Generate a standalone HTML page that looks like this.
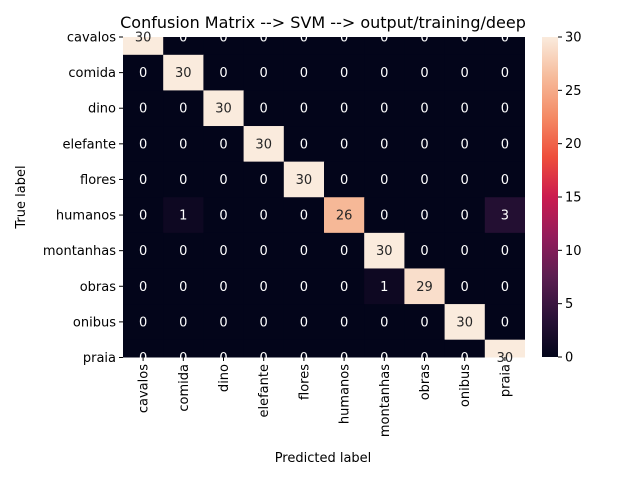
<!DOCTYPE html>
<html><head><meta charset="utf-8"><style>
body{margin:0;background:#fff}
svg text{font-family:"DejaVu Sans","Liberation Sans",sans-serif}
</style></head><body>
<svg id="c" width="640" height="480" xmlns="http://www.w3.org/2000/svg">
<defs>
<linearGradient id="cb" x1="0" y1="1" x2="0" y2="0">
<stop offset="0" stop-color="#03051A"/><stop offset="0.125" stop-color="#2B1238"/>
<stop offset="0.25" stop-color="#5B1E51"/><stop offset="0.375" stop-color="#931C5B"/>
<stop offset="0.5" stop-color="#CB1B4F"/><stop offset="0.625" stop-color="#EE4E3B"/>
<stop offset="0.75" stop-color="#F48A65"/><stop offset="0.875" stop-color="#F6BB9B"/>
<stop offset="1" stop-color="#FAEBDD"/></linearGradient>
<clipPath id="ax"><rect x="123" y="37" width="402" height="320.5"/></clipPath>
</defs>
<text x="323" y="28" font-size="16" text-anchor="middle">Confusion Matrix --&gt; SVM --&gt; output/training/deep</text>
<g id="cells" clip-path="url(#ax)"></g>
<g id="ann"></g>
<g id="ticks"></g>
<rect x="542" y="37" width="16" height="320" fill="url(#cb)"/>
<g id="cbt"></g>
<text x="323" y="462" font-size="13" text-anchor="middle">Predicted label</text>
<text transform="translate(25,197) rotate(-90)" font-size="13" text-anchor="middle">True label</text>
</svg>
<script>
const labels=["cavalos","comida","dino","elefante","flores","humanos","montanhas","obras","onibus","praia"];
const matrix=[
[30,0,0,0,0,0,0,0,0,0],
[0,30,0,0,0,0,0,0,0,0],
[0,0,30,0,0,0,0,0,0,0],
[0,0,0,30,0,0,0,0,0,0],
[0,0,0,0,30,0,0,0,0,0],
[0,1,0,0,0,26,0,0,0,3],
[0,0,0,0,0,0,30,0,0,0],
[0,0,0,0,0,0,1,29,0,0],
[0,0,0,0,0,0,0,0,30,0],
[0,0,0,0,0,0,0,0,0,30]];
const cbTicks=[0,5,10,15,20,25,30];
const NS="http://www.w3.org/2000/svg";
const vmax=30,x0=123,cw=40.2,y0=37,rh=35.61;
const xs=i=>x0+i*cw, ys=i=>y0+i*rh;
const stops=[[0,[3,5,26]],[.125,[43,18,56]],[.25,[91,30,81]],[.375,[147,28,91]],[.5,[203,27,79]],[.625,[238,78,59]],[.75,[244,138,101]],[.875,[246,187,155]],[1,[250,235,221]]];
function col(v){const t=v/vmax;for(let k=1;k<stops.length;k++){if(t<=stops[k][0]){const a=stops[k-1],b=stops[k],f=(t-a[0])/(b[0]-a[0]);return "rgb("+a[1].map((c,j)=>Math.round(c+(b[1][j]-c)*f)).join(",")+")";}}return "rgb(250,235,221)";}
function mk(tag,at,p){const e=document.createElementNS(NS,tag);for(const k in at)e.setAttribute(k,at[k]);p.appendChild(e);return e;}
const G=id=>document.getElementById(id);
matrix.forEach((row,i)=>row.forEach((v,j)=>{
 const r=mk("rect",{x:xs(j),y:ys(i)-rh/2,width:cw+0.5,height:rh+0.5,fill:col(v)},G("cells"));
 
 
 const t=mk("text",{x:xs(j)+cw/2,y:ys(i)+4.5,"font-size":13,"text-anchor":"middle",fill:v/vmax>0.5?"#262626":"#fff"},G("ann"));
 t.textContent=v;
 
 
}));
labels.forEach((l,i)=>{
 mk("line",{x1:x0-4,x2:x0,y1:ys(i),y2:ys(i),stroke:"#000"},G("ticks"));
 const t=mk("text",{x:x0-7,y:ys(i)+4.5,"font-size":13,"text-anchor":"end"},G("ticks"));t.textContent=l;
 
 
 const cx=xs(i)+cw/2;
 mk("line",{x1:cx,x2:cx,y1:357,y2:361,stroke:"#000"},G("ticks"));
 const u=mk("text",{transform:`translate(${cx+4.5},364) rotate(-90)`,"font-size":13,"text-anchor":"end"},G("ticks"));u.textContent=l;
 
 
});
cbTicks.forEach(v=>{const y=357-v/vmax*320;
 mk("line",{x1:558,x2:562,y1:y,y2:y,stroke:"#000"},G("cbt"));
 const t=mk("text",{x:565,y:y+4.5,"font-size":13},G("cbt"));t.textContent=v;
 
 
});
</script>
</body></html>
